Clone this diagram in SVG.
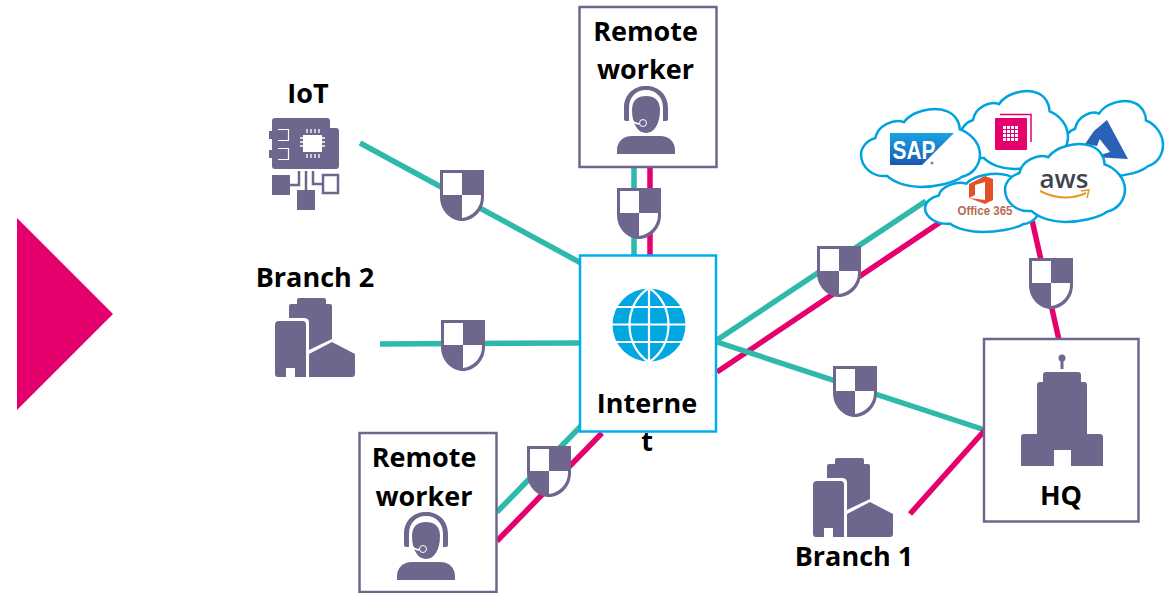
<svg xmlns="http://www.w3.org/2000/svg" width="1171" height="593" viewBox="0 0 1171 593">
<style>
.lbl{font-family:"Open Sans","Liberation Sans",sans-serif;font-weight:700;font-size:27px;fill:#000;text-anchor:middle}
.t{stroke:#2FB9AB;stroke-width:5.5;fill:none}
.m{stroke:#E5006D;stroke-width:5.5;fill:none}
.p{fill:#6F668E}
.box{fill:#fff;stroke:#6F668E;stroke-width:2.5}
.cl{fill:#fff;stroke:#00A3E0;stroke-width:2.5;vector-effect:non-scaling-stroke}
.w{fill:#fff}
</style>
<defs>
<g id="shield">
<path class="p" d="M0 0H44V27C44 41 33 51 22 51C11 51 0 41 0 27Z"/>
<path class="w" d="M3 3H22V25H3Z"/>
<path class="w" d="M22 25H41V27C41 38 32 47 22 48Z"/>
</g>
<g id="worker">
<path class="p" d="M624 119Q624 121 626 121H629V108C629 97 636 90 646 90C656 90 663 97 663 108V121H666Q668 121 668 119V108C668 94 658 86 646 86C634 86 624 94 624 108Z"/>
<path class="p" d="M632 110C632 100 638 96 646 96C654 96 660 100 660 110C660 124 654 133 646 133C638 133 632 124 632 110Z"/>
<path d="M631 118C632 122 636 124 641 124" fill="none" stroke="#fff" stroke-width="1.5"/>
<circle class="p" cx="643" cy="123" r="3.5" stroke="#fff" stroke-width="1"/>
<path class="p" d="M617 154V150C617 142 623 136 632 136H660C669 136 675 142 675 150V154Z"/>
</g>
<g id="building">
<path class="p" d="M275 325Q275 321 279 321H303Q306 321 306 325V377H295V368H286V377H278Q275 377 275 374Z"/>
<path class="p" d="M297 300Q297 298 299 298H324Q326 298 326 300V304H330Q332 304 332 306V339L309 350V323Q309 318 304 318H289V306Q289 304 291 304H297Z"/>
<path class="p" d="M309 354L332 342L355 354V374Q355 377 352 377H309Z"/>
</g>
<path id="cloud" class="cl" d="M12 38C14 22 28 13 36 18C42 5 60 -3 72 4C79 8 83 18 83 27C93 32 100 46 100 59C100 72 94 84 85 87C78 95 62 100 50 100C40 100 28 95 22 86C10 88 0 75 0 59C0 50 5 41 12 38Z"/>
<linearGradient id="sapg" x1="0" y1="0" x2="0" y2="1"><stop offset="0" stop-color="#19A3E3"/><stop offset="1" stop-color="#1C56B5"/></linearGradient>
</defs>

<polygon id="triangle" points="17,218 113,314 17,410" fill="#E5006D"/>

<g id="connectors">
<path class="t" d="M360 143L581 263"/>
<path class="t" d="M380 344L581 343"/>
<path class="t" d="M634 167V256"/>
<path class="m" d="M650 167V256"/>
<path class="t" d="M497 512L581 426"/>
<path class="m" d="M497 541L602 433"/>
<path class="t" d="M717 340L926 201"/>
<path class="m" d="M717 372L942 221"/>
<path class="t" d="M717 342L985 430"/>
<path class="m" d="M985 430L910 514"/>
<path class="m" d="M1032 220L1059 340"/>
</g>

<g id="node-iot">
<text class="lbl" x="308" y="103">IoT</text>
<path class="p" d="M272 121Q272 118 275 118H327Q330 118 330 121V128H336Q339 128 339 131V166Q339 169 336 169H275Q272 169 272 166Z"/>
<rect class="p" x="269" y="131" width="19" height="8"/>
<rect class="p" x="269" y="150" width="19" height="8"/>
<path d="M278 129.500H288.500V140.500H278M278 148.500H288.500V159.500H278" fill="none" stroke="#fff" stroke-width="1.200"/>
<rect class="w" x="303" y="135" width="19" height="17"/>
<path d="M307 129V133M311 129V133M315 129V133M319 129V133M307 154V158M311 154V158M315 154V158M319 154V158M300 138H303M300 142H303M300 146H303M322 138H325M322 142H325M322 146H325" stroke="#fff" stroke-width="1.300"/>
<rect class="p" x="272" y="175" width="18" height="20"/>
<rect class="p" x="297" y="190" width="18" height="20"/>
<rect x="323" y="175" width="15" height="18" fill="#fff" stroke="#6F668E" stroke-width="2.500"/>
<path d="M299 171V185H290M306 171V190M313 171V184H323" fill="none" stroke="#6F668E" stroke-width="2.500"/>
</g>

<g id="node-branch2">
<text class="lbl" x="315" y="287">Branch 2</text>
<use href="#building"/>
</g>

<g id="node-remote-top">
<rect class="box" x="579.500" y="7" width="137" height="160"/>
<text class="lbl" x="645.500" y="41">Remote</text>
<text class="lbl" x="645.500" y="79">worker</text>
<use href="#worker"/>
</g>

<g id="node-internet">
<rect x="580" y="255.500" width="136" height="176" fill="#fff" stroke="#00AEEF" stroke-width="2.500"/>
<circle cx="649" cy="325" r="36.500" fill="#00A7E1"/>
<path d="M649 288V362M613 307H685M612 324.500H686M613 342H685M649 288C623 304 623 346 649 362M649 288C675 304 675 346 649 362" fill="none" stroke="#fff" stroke-width="2.200"/>
<text class="lbl" x="647" y="413">Interne</text>
<text class="lbl" x="647" y="451">t</text>
</g>

<g id="node-remote-bottom">
<rect class="box" x="359.500" y="433" width="137" height="159"/>
<text class="lbl" x="424" y="467">Remote</text>
<text class="lbl" x="424" y="506">worker</text>
<use href="#worker" transform="translate(-220 426)"/>
</g>

<g id="node-hq">
<rect class="box" x="984" y="339" width="154.500" height="182.500"/>
<circle class="p" cx="1062" cy="358" r="3.500"/>
<rect class="p" x="1060.500" y="359" width="3" height="10"/>
<path class="p" d="M1043 375Q1043 372 1046 372H1078Q1081 372 1081 375V382H1084Q1087 382 1087 385V434H1100Q1103 434 1103 437V466H1071V450H1054V466H1021V437Q1021 434 1024 434H1037V385Q1037 382 1040 382H1043Z"/>
<text class="lbl" x="1061" y="505">HQ</text>
</g>

<g id="node-branch1">
<use href="#building" transform="translate(538 160)"/>
<text class="lbl" x="854" y="566">Branch 1</text>
</g>

<g id="node-clouds">
<use href="#cloud" transform="translate(1063 100) scale(1 .76)"/>
<path d="M1107 120L1094 131L1085 144L1097 146ZM1107 120L1098 137L1110 152L1094 157L1128 159Z" fill="#2A62B8"/>
<use href="#cloud" transform="translate(925 173) scale(1.15 .59)"/>
<path d="M969 184L985 176L993 179V200L985 204L969 198L985 200V182L975 185V195L969 198Z" fill="#E2512A"/>
<text x="985" y="215" font-family="'Liberation Sans',sans-serif" font-size="12" font-weight="700" fill="#B96A55" text-anchor="middle" textLength="55" lengthAdjust="spacingAndGlyphs">Office 365</text>
<use href="#cloud" transform="translate(960 90) scale(1.08 .79)"/>
<path d="M1000 114.500H1031V142" fill="none" stroke="#E5006D" stroke-width="1.500"/>
<rect x="995" y="118" width="32" height="32" rx="1" fill="#E5006D"/>
<path d="M1003 126h3v3h-3zM1007 126h3v3h-3zM1011 126h3v3h-3zM1015 126h3v3h-3zM1003 130h3v3h-3zM1007 130h3v3h-3zM1011 130h3v3h-3zM1015 130h3v3h-3zM1003 134h3v3h-3zM1007 134h3v3h-3zM1011 134h3v3h-3zM1015 134h3v3h-3zM1003 138h3v3h-3zM1007 138h3v3h-3zM1011 138h3v3h-3zM1015 138h3v3h-3z" fill="#fff"/>
<use href="#cloud" transform="translate(861 108) scale(1.19 .79)"/>
<polygon points="890,133 954,133 922,165 890,165" fill="url(#sapg)"/>
<text x="914" y="159" font-family="'Liberation Sans',sans-serif" font-size="26" font-weight="700" fill="#fff" text-anchor="middle" textLength="43" lengthAdjust="spacingAndGlyphs">SAP</text>
<circle cx="932" cy="163" r="1.500" fill="#7b8794"/>
<use href="#cloud" transform="translate(1005 143) scale(1.2 .79)"/>
<text x="1064" y="188" font-family="'Open Sans','Liberation Sans',sans-serif" font-size="26" font-weight="600" fill="#3D4450" text-anchor="middle">aws</text>
<path d="M1040 191Q1064 203 1086 193" fill="none" stroke="#E8982A" stroke-width="2"/>
<path d="M1081 191L1089 190L1087 198" fill="none" stroke="#E8982A" stroke-width="1.500"/>
</g>

<g id="shields">
<use href="#shield" transform="translate(440 170)"/>
<use href="#shield" transform="translate(441 320)"/>
<use href="#shield" transform="translate(617 188)"/>
<use href="#shield" transform="translate(527 446)"/>
<use href="#shield" transform="translate(817 246)"/>
<use href="#shield" transform="translate(833 366)"/>
<use href="#shield" transform="translate(1029 258)"/>
</g>
</svg>
